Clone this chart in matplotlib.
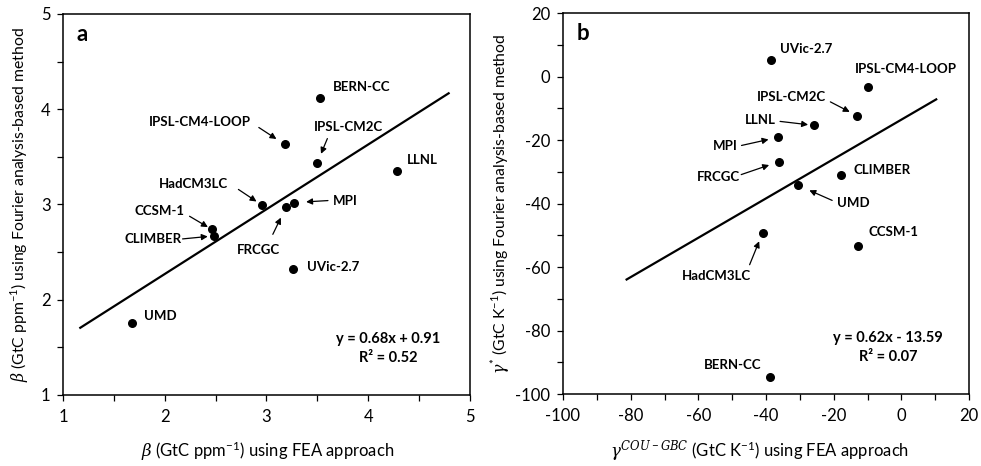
import numpy as np
import matplotlib
matplotlib.use("Agg")
import matplotlib.pyplot as plt
from matplotlib.ticker import MultipleLocator

plt.rcParams["font.family"] = ["Lato", "DejaVu Sans"]
plt.rcParams["mathtext.fontset"] = "custom"
plt.rcParams["mathtext.rm"] = "Lato"
plt.rcParams["mathtext.it"] = "DejaVu Serif:italic"
plt.rcParams["mathtext.bf"] = "Lato:bold"
plt.rcParams["axes.unicode_minus"] = False

# panel a: beta
models_a = ["BERN-CC", "IPSL-CM4-LOOP", "IPSL-CM2C", "LLNL", "HadCM3LC", "MPI",
            "CCSM-1", "CLIMBER", "FRCGC", "UVic-2.7", "UMD"]
beta_fea = [3.53, 3.18, 3.50, 4.28, 2.96, 3.27, 2.46, 2.48, 3.19, 3.26, 1.68]
beta_fourier = [4.12, 3.63, 3.44, 3.35, 2.99, 3.02, 2.74, 2.67, 2.97, 2.32, 1.76]
fit_a = (0.68, 0.91, 0.52)
fit_a_xrange = (1.17, 4.79)

# panel b: gamma
models_b = ["UVic-2.7", "IPSL-CM4-LOOP", "IPSL-CM2C", "LLNL", "MPI", "FRCGC",
            "CLIMBER", "UMD", "CCSM-1", "HadCM3LC", "BERN-CC"]
gamma_fea = [-38.4, -10.0, -13.0, -25.8, -36.6, -36.1, -17.8, -30.5, -12.8, -41.0, -38.8]
gamma_fourier = [5.2, -3.2, -12.4, -15.4, -19.2, -26.8, -30.9, -34.3, -53.4, -49.2, -94.5]
fit_b = (0.62, -13.59, 0.07)
fit_b_xrange = (-81.2, 10.3)

# label placement in pixels relative to the point: (dx, dy, ha, arrow tail, arrow head)
place_a = {
    "BERN-CC": (12, 11, "left", None, None),
    "IPSL-CM4-LOOP": (-34, 22, "right", (-26, 17), (-8, 6)),
    "IPSL-CM2C": (31, 36, "center", (10, 24), (3, 9)),
    "LLNL": (10, 11, "left", None, None),
    "HadCM3LC": (-69, 21, "center", (-24, 16), (-5, 5)),
    "MPI": (39, 2, "left", (34, 2), (12, 2)),
    "CCSM-1": (-52, 18, "center", (-22, 13), (-3, 3)),
    "CLIMBER": (-32, -3, "right", (-31, -3), (-5, -3)),
    "FRCGC": (-27, -43, "center", (-13, -27), (-3, -11)),
    "UVic-2.7": (14, 2, "left", None, None),
    "UMD": (12, 7, "left", None, None),
}
place_b = {
    "UVic-2.7": (9, 11, "left", None, None),
    "IPSL-CM4-LOOP": (38, 18, "center", None, None),
    "IPSL-CM2C": (-66, 19, "center", (-27, 14), (-7, 5)),
    "LLNL": (-54, 5, "center", (-34, 4), (-6, 0)),
    "MPI": (-52, -9, "center", (-36, -8), (-9, -2)),
    "FRCGC": (-61, -15, "center", (-38, -13), (-8, -7)),
    "CLIMBER": (12, 5, "left", None, None),
    "UMD": (39, -18, "left", (34, -15), (10, -7)),
    "CCSM-1": (10, 14, "left", None, None),
    "HadCM3LC": (-46, -43, "center", (-13, -32), (-2, -9)),
    "BERN-CC": (-37, 12, "center", None, None),
}


def draw_panel(ax, names, xs, ys, fit, xr, place, letter):
    ax.scatter(xs, ys, s=30, color="black", zorder=3)
    lx = np.array(xr)
    ax.plot(lx, fit[0] * lx + fit[1], color="black", lw=1.6, zorder=2)
    for name, x, y in zip(names, xs, ys):
        dx, dy, ha, tail, head = place[name]
        ax.annotate(name, (x, y), xytext=(dx, dy), textcoords="offset pixels",
                    ha=ha, va="center", fontsize=9.5, fontweight="bold")
        if tail is not None:
            ax.annotate("", xy=(x, y), xytext=tail, textcoords="offset pixels",
                        arrowprops=dict(arrowstyle="-|>", color="black", lw=0.9,
                                        mutation_scale=9, shrinkA=0,
                                        shrinkB=np.hypot(*head) * 0.72))
    sign = "+" if fit[1] >= 0 else "-"
    ax.text(0.80, 0.148, f"y = {fit[0]:.2f}x {sign} {abs(fit[1]):.2f}",
            transform=ax.transAxes, ha="center", va="center",
            fontsize=10.5, fontweight="bold")
    ax.text(0.80, 0.098, f"R² = {fit[2]:.2f}", transform=ax.transAxes,
            ha="center", va="center", fontsize=10.5, fontweight="bold")
    ax.text(0.034, 0.945, letter, transform=ax.transAxes, ha="left",
            va="center", fontsize=16, fontweight="bold")
    for sp in ax.spines.values():
        sp.set_linewidth(1.1)
    ax.tick_params(which="both", direction="out", length=4, width=0.9,
                   labelsize=12)
    ax.tick_params(axis="x", which="both", pad=6)
    ax.tick_params(axis="y", which="both", pad=5)
    ax.tick_params(which="both", top=False, right=False)


fig = plt.figure(figsize=(9.81, 4.66), dpi=100)
ax1 = fig.add_axes([0.0642, 0.1524, 0.4149, 0.8176])
ax2 = fig.add_axes([0.5739, 0.1545, 0.4139, 0.8176])

draw_panel(ax1, models_a, beta_fea, beta_fourier, fit_a, fit_a_xrange, place_a, "a")
ax1.set_xlim(1, 5)
ax1.set_ylim(1, 5)
ax1.xaxis.set_major_locator(MultipleLocator(1))
ax1.xaxis.set_minor_locator(MultipleLocator(0.5))
ax1.yaxis.set_major_locator(MultipleLocator(1))
ax1.yaxis.set_minor_locator(MultipleLocator(0.5))
ax1.set_xlabel(r"$\beta$ (GtC ppm$^{-1}$) using FEA approach", fontsize=12)
ax1.set_ylabel(r"$\beta$ (GtC ppm$^{-1}$) using Fourier analysis-based method", fontsize=11.3)
ax1.xaxis.set_label_coords(0.502, -0.118)
ax1.yaxis.set_label_coords(-0.079, 0.5)

draw_panel(ax2, models_b, gamma_fea, gamma_fourier, fit_b, fit_b_xrange, place_b, "b")
ax2.set_xlim(-100, 20)
ax2.set_ylim(-100, 20)
ax2.xaxis.set_major_locator(MultipleLocator(20))
ax2.xaxis.set_minor_locator(MultipleLocator(10))
ax2.yaxis.set_major_locator(MultipleLocator(20))
ax2.yaxis.set_minor_locator(MultipleLocator(10))
ax2.set_xlabel(r"$\gamma^{COU-GBC}$ (GtC K$^{-1}$) using FEA approach", fontsize=12)
ax2.set_ylabel(r"$\gamma^{*}$ (GtC K$^{-1}$) using Fourier analysis-based method", fontsize=11.3)
ax2.xaxis.set_label_coords(0.485, -0.118)
ax2.yaxis.set_label_coords(-0.123, 0.5)

fig.savefig("out.png", dpi=100)
